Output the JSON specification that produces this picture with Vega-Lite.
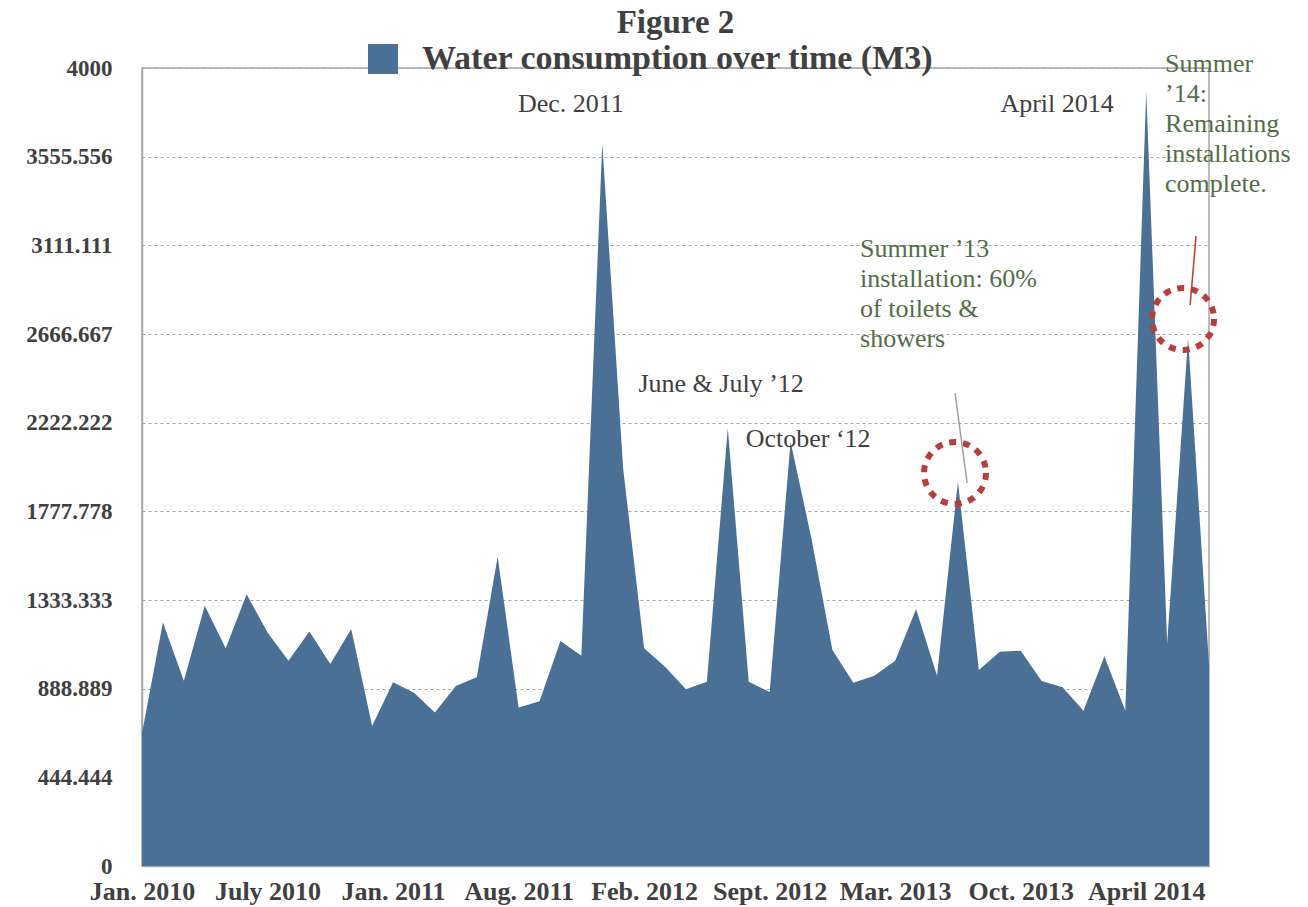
{
  "$schema": "https://vega.github.io/schema/vega-lite/v6.json",
  "width": 1067,
  "height": 798,
  "autosize": "none",
  "padding": {"left": 142, "top": 68, "right": 99, "bottom": 41},
  "background": "white",
  "config": {
    "font": "Liberation Serif",
    "view": {"stroke": "#A6A6A6", "strokeWidth": 1.5}
  },
  "title": {
    "text": "Figure 2",
    "fontSize": 33,
    "font": "Liberation Serif",
    "fontWeight": "bold",
    "color": "#404040",
    "anchor": "middle",
    "offset": 2
  },
  "encoding": {
    "x": {
      "field": "idx",
      "type": "quantitative",
      "scale": {"domain": [0, 51], "nice": false, "zero": false},
      "axis": {
        "title": null,
        "values": [0, 6, 12, 18, 24, 30, 36, 42, 48],
        "labelExpr": "['Jan. 2010','July 2010','Jan. 2011','Aug. 2011','Feb. 2012','Sept. 2012','Mar. 2013','Oct. 2013','April 2014'][round(datum.value/6)]",
        "grid": false,
        "ticks": false,
        "domain": true,
        "domainColor": "#A6A6A6",
        "domainWidth": 1.5,
        "labelFont": "Liberation Serif",
        "labelFontWeight": "bold",
        "labelFontSize": 26,
        "labelColor": "#404040",
        "labelPadding": 12,
        "labelOverlap": false,
        "labelFlush": false
      }
    },
    "y": {
      "field": "v",
      "type": "quantitative",
      "scale": {"domain": [0, 4000], "nice": false},
      "axis": {
        "title": null,
        "values": [0, 444.4444, 888.8889, 1333.3333, 1777.7778, 2222.2222, 2666.6667, 3111.1111, 3555.5556, 4000],
        "format": ".3~f",
        "grid": true,
        "gridColor": "#A6A6A6",
        "gridDash": [3, 3],
        "gridWidth": 1,
        "ticks": false,
        "domain": true,
        "domainColor": "#A6A6A6",
        "domainWidth": 1.5,
        "labelFont": "Liberation Serif",
        "labelFontWeight": "bold",
        "labelFontSize": 23,
        "labelColor": "#404040",
        "labelPadding": 30,
        "labelOverlap": false,
        "labelFlush": false
      }
    }
  },
  "layer": [
    {
      "data": {
        "values": [
          {"idx": 0, "v": 667}, {"idx": 1, "v": 1221}, {"idx": 2, "v": 929}, {"idx": 3, "v": 1305},
          {"idx": 4, "v": 1091}, {"idx": 5, "v": 1362}, {"idx": 6, "v": 1171}, {"idx": 7, "v": 1029},
          {"idx": 8, "v": 1176}, {"idx": 9, "v": 1013}, {"idx": 10, "v": 1188}, {"idx": 11, "v": 702},
          {"idx": 12, "v": 921}, {"idx": 13, "v": 869}, {"idx": 14, "v": 770}, {"idx": 15, "v": 902},
          {"idx": 16, "v": 946}, {"idx": 17, "v": 1550}, {"idx": 18, "v": 795}, {"idx": 19, "v": 826},
          {"idx": 20, "v": 1128}, {"idx": 21, "v": 1054}, {"idx": 22, "v": 3622}, {"idx": 23, "v": 1990},
          {"idx": 24, "v": 1091}, {"idx": 25, "v": 999}, {"idx": 26, "v": 886}, {"idx": 27, "v": 924},
          {"idx": 28, "v": 2194}, {"idx": 29, "v": 924}, {"idx": 30, "v": 872}, {"idx": 31, "v": 2127},
          {"idx": 32, "v": 1640}, {"idx": 33, "v": 1083}, {"idx": 34, "v": 919}, {"idx": 35, "v": 954},
          {"idx": 36, "v": 1029}, {"idx": 37, "v": 1288}, {"idx": 38, "v": 954}, {"idx": 39, "v": 1926},
          {"idx": 40, "v": 982}, {"idx": 41, "v": 1074}, {"idx": 42, "v": 1079}, {"idx": 43, "v": 927},
          {"idx": 44, "v": 896}, {"idx": 45, "v": 778}, {"idx": 46, "v": 1051}, {"idx": 47, "v": 778},
          {"idx": 48, "v": 3884}, {"idx": 49, "v": 1116}, {"idx": 50, "v": 2647}, {"idx": 51, "v": 1010}
        ]
      },
      "mark": {"type": "area", "interpolate": "linear", "opacity": 1},
      "encoding": {
        "color": {
          "datum": "Water consumption over time (M3)",
          "scale": {"range": ["#4B7095"]},
          "legend": {
            "orient": "none",
            "legendX": 224,
            "legendY": -26,
            "title": null,
            "symbolType": "square",
            "symbolSize": 900,
            "symbolStrokeWidth": 0,
            "symbolOpacity": 1,
            "labelFontSize": 34,
            "labelFont": "Liberation Serif",
            "labelFontWeight": "bold",
            "labelColor": "#404040",
            "labelOffset": 22,
            "labelLimit": 0
          }
        }
      }
    },
    {
      "data": {
        "values": [
          {"idx": 38.86, "v": 1970},
          {"idx": 49.76, "v": 2742}
        ]
      },
      "mark": {"type": "point", "shape": "circle", "filled": false, "size": 3844, "strokeWidth": 6, "strokeDash": [7, 7], "color": "#BE3B3B", "opacity": 1}
    },
    {
      "data": {"values": [{"idx": 38.86, "v": 2371, "idx2": 39.44, "v2": 1920}]},
      "mark": {"type": "rule", "color": "#A0A0A0", "strokeWidth": 1.5},
      "encoding": {
        "x2": {"field": "idx2"},
        "y2": {"field": "v2"}
      }
    },
    {
      "data": {"values": [{"idx": 50.38, "v": 3158, "idx2": 50.1, "v2": 2812}]},
      "mark": {"type": "rule", "color": "#C0392B", "strokeWidth": 1.5},
      "encoding": {
        "x2": {"field": "idx2"},
        "y2": {"field": "v2"}
      }
    },
    {
      "data": {
        "values": [
          {"idx": 20.5, "v": 3779, "note": "Dec. 2011"},
          {"idx": 43.74, "v": 3779, "note": "April 2014"},
          {"idx": 27.68, "v": 2376, "note": "June & July ’12"},
          {"idx": 31.84, "v": 2100, "note": "October ‘12"}
        ]
      },
      "mark": {"type": "text", "align": "center", "baseline": "alphabetic", "fontSize": 26, "font": "Liberation Serif", "color": "#404040"},
      "encoding": {"text": {"field": "note"}}
    },
    {
      "data": {
        "values": [
          {"idx": 34.32, "v": 3160, "note": "Summer ’13\ninstallation: 60%\nof toilets &\nshowers"},
          {"idx": 48.9, "v": 4085, "note": "Summer\n’14:\nRemaining\ninstallations\ncomplete."}
        ]
      },
      "mark": {"type": "text", "align": "left", "baseline": "top", "fontSize": 26, "lineHeight": 30, "lineBreak": "\n", "font": "Liberation Serif", "color": "#526E45"},
      "encoding": {"text": {"field": "note"}}
    }
  ]
}
